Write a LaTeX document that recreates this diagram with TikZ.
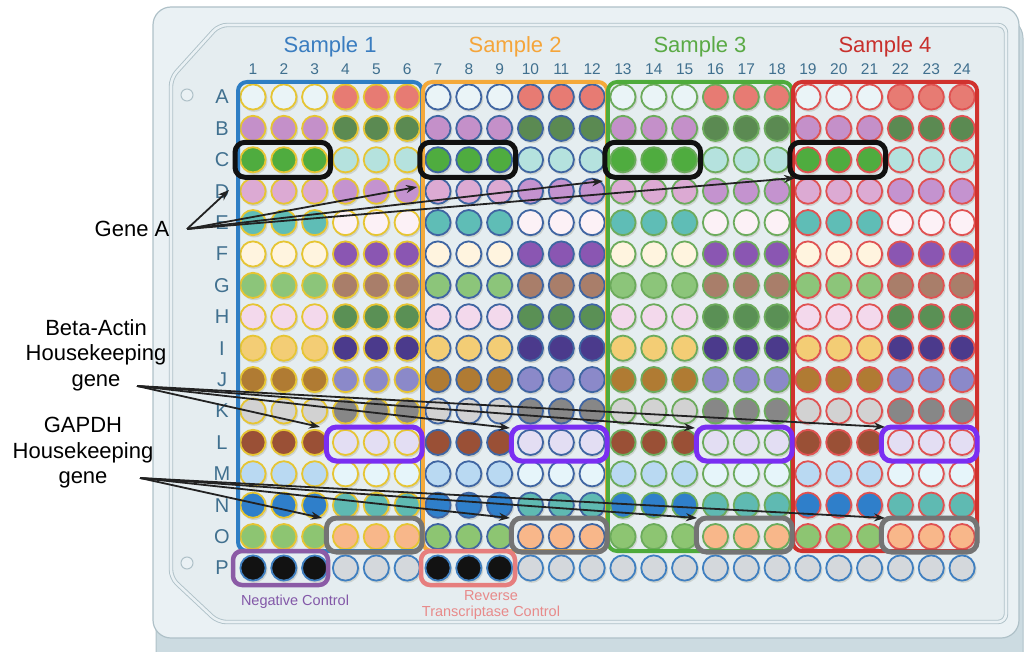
\documentclass[tikz,border=0pt]{standalone}
\usepackage{fontspec}
\setmainfont{Liberation Sans}
\usetikzlibrary{arrows.meta}
% plate colours
\definecolor{basec}{HTML}{CCDBE1}
\definecolor{platec}{HTML}{EAF1F4}
\definecolor{panelc}{HTML}{E5EDF0}
\definecolor{platel}{HTML}{AFC1C8}
\definecolor{labc}{HTML}{40708F}
\definecolor{shadc}{HTML}{C3C8C2}
% sample colours
\definecolor{B1}{HTML}{2E7EC4}
\definecolor{B2}{HTML}{F4A93A}
\definecolor{B3}{HTML}{4EAB3B}
\definecolor{B4}{HTML}{D0322E}
\definecolor{T1}{HTML}{3A7DC0}
\definecolor{T2}{HTML}{F5A53A}
\definecolor{T3}{HTML}{5AAA45}
\definecolor{T4}{HTML}{C8302C}
\definecolor{S1}{HTML}{E6C533}
\definecolor{S2}{HTML}{3F65A2}
\definecolor{S3}{HTML}{6CAB5C}
\definecolor{S4}{HTML}{E05252}
% well fills: L = columns 1-3 of a sample, R = columns 4-6
\definecolor{LA}{HTML}{EAF4F7}\definecolor{RA}{HTML}{E77B73}
\definecolor{LB}{HTML}{C490C9}\definecolor{RB}{HTML}{5B8A52}
\definecolor{LC}{HTML}{4FAC3F}\definecolor{RC}{HTML}{B5E2DE}
\definecolor{LD}{HTML}{DCAAD3}\definecolor{RD}{HTML}{C493CF}
\definecolor{LE}{HTML}{5FBDB6}\definecolor{RE}{HTML}{FCF1F6}
\definecolor{LF}{HTML}{FFF4DF}\definecolor{RF}{HTML}{8A56B2}
\definecolor{LG}{HTML}{8CC57A}\definecolor{RG}{HTML}{A97E6A}
\definecolor{LH}{HTML}{F3D9EC}\definecolor{RH}{HTML}{5A9055}
\definecolor{LI}{HTML}{F3CD75}\definecolor{RI}{HTML}{4B3A8C}
\definecolor{LJ}{HTML}{B07B33}\definecolor{RJ}{HTML}{8B89C9}
\definecolor{LK}{HTML}{D2D2D2}\definecolor{RK}{HTML}{878787}
\definecolor{LL}{HTML}{9A5036}\definecolor{RL}{HTML}{E3DEF3}
\definecolor{LM}{HTML}{B9D9F2}\definecolor{RM}{HTML}{E6F5FA}
\definecolor{LN}{HTML}{2F7FCA}\definecolor{RN}{HTML}{5FBAB2}
\definecolor{LO}{HTML}{8DC572}\definecolor{RO}{HTML}{F8B78A}
\definecolor{Pfill}{HTML}{D4D8DC}
\definecolor{Pline}{HTML}{3F7FC0}
\definecolor{blk}{HTML}{121212}
\definecolor{hlC}{HTML}{111111}
\definecolor{hlL}{HTML}{7A2EF2}
\definecolor{hlO}{HTML}{747474}
\definecolor{negc}{HTML}{8B5BA6}
\definecolor{rtc}{HTML}{E67E7E}
\definecolor{negt}{HTML}{8358A8}
\definecolor{rtt}{HTML}{E88A8A}
\definecolor{arrc}{HTML}{222222}
\begin{document}
\begin{tikzpicture}[x=1pt,y=-1pt,
  rowlab/.style={text=labc,font=\fontsize{20}{20}\selectfont,inner sep=0pt},
  collab/.style={text=labc,font=\fontsize{15.5}{16}\selectfont,inner sep=0pt},
  titlelab/.style={font=\fontsize{22}{22}\selectfont,inner sep=0pt},
  sidelab/.style={font=\fontsize{22}{25.5}\selectfont,align=center,inner sep=0pt,text=black},
  ctrllab/.style={font=\fontsize{14.5}{16.5}\selectfont,align=center,inner sep=0pt},
  sbox/.style={line width=4pt,rounded corners=9pt},
  hbox/.style={line width=5pt,rounded corners=10pt},
  cbox/.style={line width=4.5pt,rounded corners=9pt},
  arr/.style={-{Stealth[length=11pt,width=8pt]},line width=1.8pt,draw=arrc},
  wellst/.style={line width=1.8pt}]
\useasboundingbox (0,0) rectangle (1025,652);
% plate body
\draw[fill=basec,draw=platel,line width=1pt,rounded corners=20pt] (156,18) rectangle (1023,680);
\draw[fill=platec,draw=platel,line width=1.2pt,rounded corners=18pt] (153,7) rectangle (1019,638);
\draw[fill=panelc,draw=platel,line width=0.9pt,double=platec,double distance=2.6pt,rounded corners=8pt]
  (171,78) -- (219,25) -- (1006,25) -- (1006,622) -- (218,622) -- (171,578) -- cycle;
\draw[platel,line width=1pt,fill=platec] (187,95) circle (6pt);
\draw[platel,line width=1pt,fill=platec] (187,563) circle (6pt);
% column and row labels
\foreach \c in {1,...,24}{
  \pgfmathsetmacro\xx{253+(\c-1)*30.83}
  \node[collab] (col\c) at (\xx,69) {\c};
}
\foreach \r/\rn in {1/A,2/B,3/C,4/D,5/E,6/F,7/G,8/H,9/I,10/J,11/K,12/L,13/M,14/N,15/O,16/P}{
  \pgfmathsetmacro\yy{97+(\r-1)*31.4}
  \node[rowlab] (row\rn) at (222,\yy) {\rn};
}
% wells rows A-O
\foreach \r/\rn in {1/A,2/B,3/C,4/D,5/E,6/F,7/G,8/H,9/I,10/J,11/K,12/L,13/M,14/N,15/O}{
  \foreach \c in {1,...,24}{
    \pgfmathsetmacro\xx{253+(\c-1)*30.83}
    \pgfmathsetmacro\yy{97+(\r-1)*31.4}
    \pgfmathtruncatemacro\ss{div(\c-1,6)+1}
    \pgfmathtruncatemacro\hh{mod(\c-1,6)}
    \ifnum\hh<3 \def\fc{L\rn}\else\def\fc{R\rn}\fi
    \fill[shadc,opacity=0.7] (\xx+1.2,\yy+1.6) circle (13.2pt);
    \draw[wellst,fill=\fc,draw=S\ss] (\xx,\yy) circle (12.6pt);
  }
}
% row P
\foreach \c in {1,...,24}{
  \pgfmathsetmacro\xx{253+(\c-1)*30.83}
  \pgfmathsetmacro\yy{97+15*31.4}
  \def\fc{Pfill}
  \ifnum\c<4 \def\fc{blk}\fi
  \ifnum\c>6 \ifnum\c<10 \def\fc{blk}\fi\fi
  \fill[shadc,opacity=0.7] (\xx+1.2,\yy+1.6) circle (13.2pt);
  \draw[wellst,fill=\fc,draw=Pline] (\xx,\yy) circle (12.6pt);
}
% sample boxes and titles
\foreach \s in {1,2,3,4}{
  \pgfmathsetmacro\xa{253+(6*\s-6)*30.83-15}
  \pgfmathsetmacro\xb{253+(6*\s-1)*30.83+15}
  \pgfmathsetmacro\xm{253+(6*\s-3.5)*30.83}
  \draw[sbox,draw=B\s] (\xa,82) rectangle (\xb,551);
  \node[titlelab,text=T\s] (title\s) at (\xm,47) {Sample \s};
}
% highlight boxes
\foreach \s in {1,2,3,4}{
  \pgfmathsetmacro\xa{253+(6*\s-6)*30.83-18}
  \pgfmathsetmacro\xb{253+(6*\s-4)*30.83+16}
  \pgfmathsetmacro\xc{253+(6*\s-3)*30.83-19}
  \pgfmathsetmacro\xd{253+(6*\s-1)*30.83+15}
  \draw[hbox,draw=hlC] (\xa,142.3) rectangle (\xb,177.3);
  \draw[hbox,draw=hlL] (\xc,427) rectangle (\xd,461);
  \draw[hbox,draw=hlO] (\xc,518) rectangle (\xd,552);
}
\draw[cbox,draw=negc] (233,551) rectangle (328,585);
\draw[cbox,draw=rtc] (421,551) rectangle (515,585);
\node[ctrllab,text=negt] (neg) at (295,602) {Negative Control};
\node[ctrllab,text=rtt] (rt) at (491,605) {Reverse\\Transcriptase Control};
% side labels
\node[sidelab] (geneA) at (132,229) {Gene A};
\node[sidelab] (beta) at (96,355) {Beta-Actin\\Housekeeping\\gene};
\node[sidelab] (gapdh) at (83,453) {GAPDH\\Housekeeping\\gene};
% arrow anchors
\coordinate (ga) at (187,229);
\coordinate (ba) at (137,386);
\coordinate (gp) at (140,478);
\coordinate (ga1) at (229,190);
\coordinate (ga2) at (417,187);
\coordinate (ga3) at (603,181);
\coordinate (ga4) at (795,178);
\coordinate (ba1) at (320,427);
\coordinate (ba2) at (510,428);
\coordinate (ba3) at (695,428);
\coordinate (ba4) at (885,427);
\coordinate (gp1) at (322,518);
\coordinate (gp2) at (510,518);
\coordinate (gp3) at (697,518);
\coordinate (gp4) at (885,518);
\foreach \i in {1,2,3,4}{
  \draw[arr] (ga) -- (ga\i);
  \draw[arr] (ba) -- (ba\i);
  \draw[arr] (gp) -- (gp\i);
}
\end{tikzpicture}
\end{document}
